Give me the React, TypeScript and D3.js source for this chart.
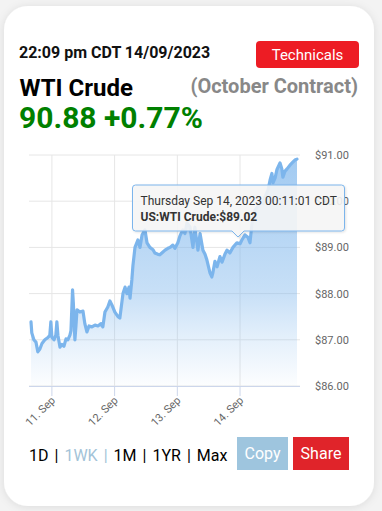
import React from "react";
import * as d3 from "d3";

// Hours from 11 Sep 2023 00:00 CDT
const hours = [
  -8.0, -7.7, -6.9, -6.1, -5.4, -4.6, -3.8, -2.7, -1.5, -0.8, -0.4, 0, 0.8, 1.5, 1.9, 2.3, 3.1, 3.8, 4.6, 5.4,
  6.1, 6.9, 7.3, 7.9, 8.2, 8.8, 9.2, 9.6, 10.7, 11.9, 12.6, 13.4, 14.2, 15.3, 16.5, 17.6, 18.8, 19.5, 20.3, 21.4,
  22.2, 23.0, 24.1, 25.3, 26.0, 27.2, 28.0, 28.7, 29.5, 29.9, 30.6, 31.0, 31.8, 32.9, 33.7, 34.5, 35.6, 36.4, 37.5, 38.7,
  39.4, 40.6, 41.3, 42.5, 43.3, 44.4, 45.2, 46.3, 47.1, 48.2, 49.0, 50.1, 50.9, 51.7, 52.8, 54.0, 54.7, 55.9, 56.7, 57.8,
  58.6, 59.3, 60.5, 61.2, 61.6, 62.4, 63.2, 64.3, 65.1, 66.2, 67.0, 68.1, 69.3, 70.8, 72.0, 72.7, 73.9, 75.0, 75.8, 76.6,
  77.7, 78.9, 79.6, 80.8, 81.5, 82.7, 83.5, 84.2, 84.6, 85.4, 86.1, 87.3, 88.0, 88.4, 89.2, 90.0, 91.1, 92.3, 93.0, 93.8,
];
const prices = [
  87.39, 87.15, 87.0, 86.95, 86.74, 86.8, 86.92, 87.0, 87.05, 87.1, 87.39, 87.05, 87.0, 87.1, 87.39, 87.1, 86.84, 86.9, 86.86, 87.02,
  87.0, 87.1, 87.2, 88.08, 87.8, 87.0, 87.3, 87.65, 87.6, 87.62, 87.35, 87.17, 87.3, 87.28, 87.32, 87.3, 87.35, 87.28, 87.6, 87.71,
  87.84, 87.75, 87.6, 87.5, 87.47, 88.0, 88.14, 88.0, 88.14, 87.9, 88.3, 88.6, 89.0, 89.16, 89.0, 89.27, 89.38, 89.1, 89.0, 88.95,
  88.88, 88.85, 88.84, 88.9, 88.94, 88.98, 89.0, 89.05, 88.98, 89.1, 89.25, 89.38, 89.3, 89.53, 89.45, 89.0, 89.44, 88.94, 89.3, 88.94,
  88.85, 88.73, 88.45, 88.36, 88.45, 88.7, 88.58, 88.8, 88.68, 88.85, 88.94, 88.88, 89.0, 89.1, 89.08, 89.16, 89.27, 89.22, 89.1, 89.53,
  89.8, 89.9, 90.03, 89.95, 90.09, 90.24, 90.46, 90.6, 90.4, 90.5, 90.68, 90.83, 90.7, 90.52, 90.65, 90.7, 90.78, 90.85, 90.89, 90.91,
];
const yTicks = [86, 87, 88, 89, 90, 91];
const xTickDays = [11, 12, 13, 14];
const navItems = ["1D", "1WK", "1M", "1YR", "Max"];
const activeNav = "1WK";

const FONT = "Roboto, 'Open Sans', sans-serif";
const LINE = "#7cb5ec";

const base = Date.UTC(2023, 8, 11, 0, 0, 0);
const data = hours.map((h, i) => ({ t: new Date(base + h * 3600e3), v: prices[i] }));

export default function App() {
  const W = 382, H = 511;
  const plotL = 29, plotR = 300, plotT = 155, plotB = 386;
  const x = d3.scaleUtc().domain(d3.extent(data, (d) => d.t) as [Date, Date]).range([31, 297]);
  const y = d3.scaleLinear().domain([86, 91]).range([plotB, plotT]);
  const line = d3.line<any>().x((d) => x(d.t)).y((d) => y(d.v)).curve(d3.curveLinear);
  const area = d3.area<any>().x((d) => x(d.t)).y0(plotB).y1((d) => y(d.v)).curve(d3.curveLinear);
  const xTicks = xTickDays.map((d) => new Date(Date.UTC(2023, 8, d)));

  const tipX = 132.5, tipY = 185, tipW = 212, tipH = 46;
  const ptrX = 238;
  const tipPath = `M${tipX + 3},${tipY} H${tipX + tipW - 3} Q${tipX + tipW},${tipY} ${tipX + tipW},${tipY + 3} V${tipY + tipH - 3} Q${tipX + tipW},${tipY + tipH} ${tipX + tipW - 3},${tipY + tipH} H${ptrX + 6} L${ptrX},${tipY + tipH + 6} L${ptrX - 6},${tipY + tipH} H${tipX + 3} Q${tipX},${tipY + tipH} ${tipX},${tipY + tipH - 3} V${tipY + 3} Q${tipX},${tipY} ${tipX + 3},${tipY} Z`;

  return (
    <svg width={W} height={H} style={{ position: "absolute", left: 0, top: 0 }} fontFamily={FONT}>
      <defs>
        <filter id="cardShadow" x="-10%" y="-10%" width="120%" height="120%">
          <feDropShadow dx="0" dy="1" stdDeviation="4" floodColor="#000" floodOpacity="0.1" />
        </filter>
        <filter id="tipShadow" x="-10%" y="-20%" width="130%" height="150%">
          <feDropShadow dx="1" dy="1" stdDeviation="1.2" floodColor="#000" floodOpacity="0.12" />
        </filter>
        <linearGradient id="areaGrad" gradientUnits="userSpaceOnUse" x1="0" y1={plotT} x2="0" y2={plotB}>
          <stop offset="0" stopColor={LINE} stopOpacity="0.72" />
          <stop offset="0.6" stopColor={LINE} stopOpacity="0.42" />
          <stop offset="0.8" stopColor={LINE} stopOpacity="0.2" />
          <stop offset="1" stopColor={LINE} stopOpacity="0.02" />
        </linearGradient>
      </defs>
      <rect x={0} y={0} width={W} height={H} fill="#f3f3f3" />
      <rect x={4} y={6} width={370} height={500} rx={24} fill="#fff" filter="url(#cardShadow)" />

      {/* Header */}
      <text x={19} y={58} fontSize={16} fontWeight={700} fill="#111">22:09 pm CDT 14/09/2023</text>
      <rect x={256} y={41} width={103} height={27} rx={4} fill="#ed1c24" />
      <text x={307.5} y={59.5} fontSize={15} fill="#fff" textAnchor="middle">Technicals</text>
      <text x={19.5} y={96} fontSize={24} fontWeight={700} fill="#000">WTI Crude</text>
      <text x={358} y={93} fontSize={20} fontWeight={700} fill="#888" textAnchor="end">(October Contract)</text>
      <text x={19} y={128} fontSize={30} fontWeight={700} fill="#008000">90.88 +0.77%</text>

      {/* Grid */}
      {yTicks.map((t) => (
        <line key={"gy" + t} x1={plotL} x2={plotR} y1={y(t)} y2={y(t)} stroke="#e6e6e6" strokeWidth={1} />
      ))}
      {xTicks.map((t, i) => (
        <line key={"gx" + i} x1={x(t)} x2={x(t)} y1={plotT} y2={plotB} stroke="#e6e6e6" strokeWidth={1} />
      ))}

      {/* Series */}
      <path d={area(data) || ""} fill="url(#areaGrad)" />
      <path d={line(data) || ""} fill="none" stroke={LINE} strokeWidth={3.2} strokeLinejoin="round" strokeLinecap="round" />

      {/* X axis */}
      <line x1={plotL} x2={plotR} y1={plotB + 0.5} y2={plotB + 0.5} stroke="#ccd6eb" strokeWidth={1} />
      {xTicks.map((t, i) => (
        <g key={"xt" + i}>
          <line x1={x(t)} x2={x(t)} y1={plotB} y2={plotB + 10} stroke="#ccd6eb" strokeWidth={1} />
          <text
            transform={`translate(${x(t) + 4},${plotB + 15}) rotate(-45)`}
            fontSize={11}
            fill="#666"
            textAnchor="end"
          >
            {d3.utcFormat("%-d. %b")(t)}
          </text>
        </g>
      ))}

      {/* Y axis labels */}
      {yTicks.map((t) => (
        <text key={"yl" + t} x={315} y={y(t) + 4} fontSize={11} fill="#666">
          {"$" + d3.format(".2f")(t)}
        </text>
      ))}

      {/* Tooltip */}
      <path d={tipPath} fill="rgba(247,247,247,0.88)" stroke={LINE} strokeWidth={1} filter="url(#tipShadow)" />
      <text x={140.5} y={205} fontSize={12} fill="#333">Thursday Sep 14, 2023 00:11:01 CDT</text>
      <text x={140.5} y={221} fontSize={12} fill="#333" fontWeight={700}>US:WTI Crude:$89.02</text>

      {/* Bottom nav */}
      <text x={29} y={461} fontSize={16} fill="#000">
        {navItems.map((n, i) => {
          const c = n === activeNav ? "#a3c3d8" : "#000";
          return (
            <React.Fragment key={n}>
              <tspan dx={i === 0 ? 0 : 6} fill={c}>{n}</tspan>
              {i < navItems.length - 1 && (
                <tspan dx={6} fill={c}>|</tspan>
              )}
            </React.Fragment>
          );
        })}
      </text>
      <rect x={237} y={437} width={51} height={33} fill="#9ec5de" />
      <text x={262.5} y={459} fontSize={16} fill="#fff" textAnchor="middle">Copy</text>
      <rect x={293} y={437} width={56} height={33} fill="#e0242a" />
      <text x={321} y={459} fontSize={16} fill="#fff" textAnchor="middle">Share</text>
    </svg>
  );
}
